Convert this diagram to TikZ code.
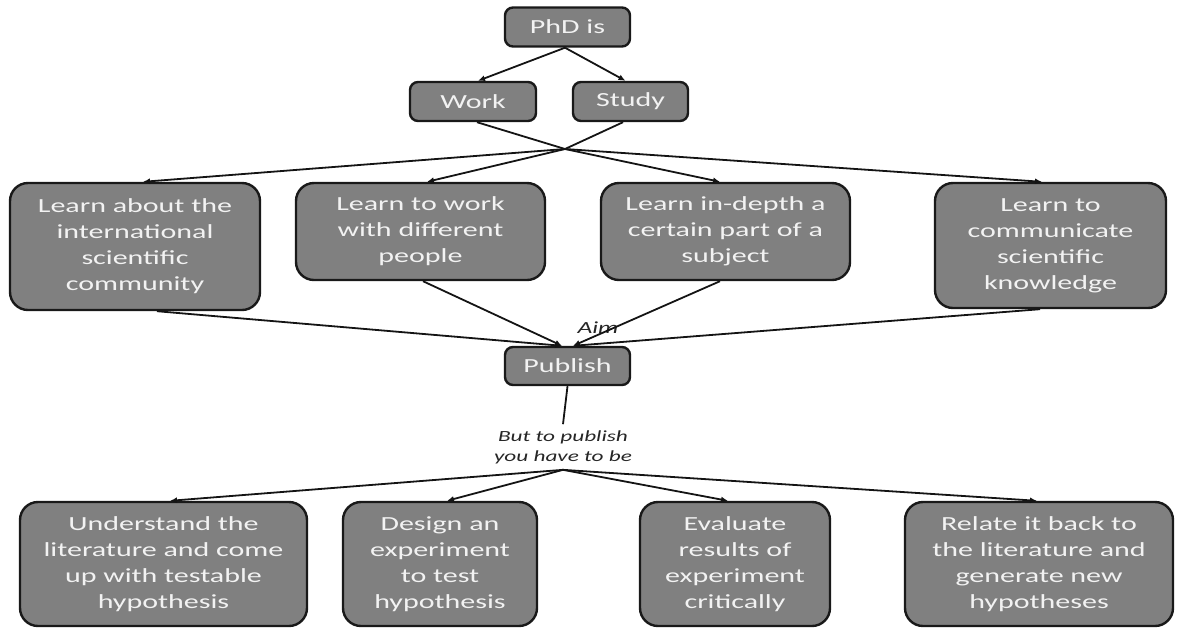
\documentclass[tikz,border=0pt]{standalone}
\usepackage{fontspec}
\setmainfont{Carlito}[FakeStretch=1.5]
\usetikzlibrary{arrows.meta,calc}
\definecolor{boxgray}{RGB}{128,128,128}
\definecolor{boxline}{RGB}{25,25,25}
\definecolor{linkcol}{RGB}{20,20,20}
\begin{document}
\begin{tikzpicture}[x=1pt,y=-1pt,
 concept/.style={draw=boxline,line width=2.4pt,fill=boxgray,rounded corners=18pt,text=white!95!black,align=center,inner sep=0pt,font=\fontsize{20}{26}\selectfont},
 small/.style={concept,rounded corners=8pt,minimum height=39pt},
 link/.style={line width=1.8pt,draw=linkcol},
 arr/.style={link,-{Latex[length=7pt,width=6pt]}},
 lab/.style={font=\itshape\fontsize{15.5}{20}\selectfont,text=black!85,align=center,inner sep=0pt}
]
\path[use as bounding box] (0,0) rectangle (1177,630);

% top
\node[small,minimum width=125pt] (phd) at (567.5,27) {PhD is};
\node[small,minimum width=126pt] (work) at (473,101.5) {Work};
\node[small,minimum width=115pt] (study) at (630.5,101.5) {Study};
\coordinate (j1) at (565,149);

% second row
\node[concept,minimum width=250pt,minimum height=127pt] (b1) at (135,246.5) {Learn about the\\international\\scientific\\community};
\node[concept,minimum width=249pt,minimum height=97pt] (b2) at (420.5,231.5) {Learn to work\\with different\\people};
\node[concept,minimum width=249pt,minimum height=97pt] (b3) at (725.5,231.5) {Learn in-depth a\\certain part of a\\subject};
\node[concept,minimum width=231pt,minimum height=125pt] (b4) at (1050.5,245.5) {Learn to\\communicate\\scientific\\knowledge};

% middle
\node[lab,font=\itshape\fontsize{17}{20}\selectfont] (aim) at (598,328) {Aim};
\node[small,minimum width=125pt,minimum height=38pt] (pub) at (567.5,366) {Publish};
\node[lab,inner sep=6pt] (but) at (563,447) {But to publish\\you have to be};

% bottom row
\node[concept,minimum width=287pt,minimum height=124pt] (c1) at (163.5,564) {Understand the\\literature and come\\up with testable\\hypothesis};
\node[concept,minimum width=194pt,minimum height=124pt] (c2) at (440,564) {Design an\\experiment\\to test\\hypothesis};
\node[concept,minimum width=190pt,minimum height=124pt] (c3) at (735,564) {Evaluate\\results of\\experiment\\critically};
\node[concept,minimum width=268pt,minimum height=124pt] (c4) at (1039,564) {Relate it back to\\the literature and\\generate new\\hypotheses};

% connectors
\draw[arr] ([xshift=-2.5pt]phd.south) -- ([xshift=5pt]work.north);
\draw[arr] ([xshift=-2.5pt]phd.south) -- ([xshift=-5pt]study.north);
\draw[link] ([xshift=4pt]work.south) -- (j1);
\draw[link] ([xshift=-7.5pt]study.south) -- (j1);
\draw[arr] (j1) -- ([xshift=8pt]b1.north);
\draw[arr] (j1) -- ([xshift=6.5pt]b2.north);
\draw[arr] (j1) -- ([xshift=-5.5pt]b3.north);
\draw[arr] (j1) -- ([xshift=-8.5pt]b4.north);

\draw[arr] ([xshift=22pt]b1.south) -- ([xshift=-5.5pt]pub.north);
\draw[arr] ([xshift=2.5pt]b2.south) -- ([xshift=-5.5pt]pub.north);
\draw[arr] ([xshift=-5.5pt]b3.south) -- ([xshift=5.5pt]pub.north);
\draw[arr] ([xshift=-10.5pt]b4.south) -- ([xshift=5.5pt]pub.north);

\draw[link] (pub.south) -- (but.north);
\draw[arr] (but.south) -- ([xshift=6.5pt]c1.north);
\draw[arr] (but.south) -- ([xshift=7pt]c2.north);
\draw[arr] (but.south) -- ([xshift=-7pt]c3.north);
\draw[arr] (but.south) -- ([xshift=-2pt]c4.north);
\end{tikzpicture}
\end{document}
